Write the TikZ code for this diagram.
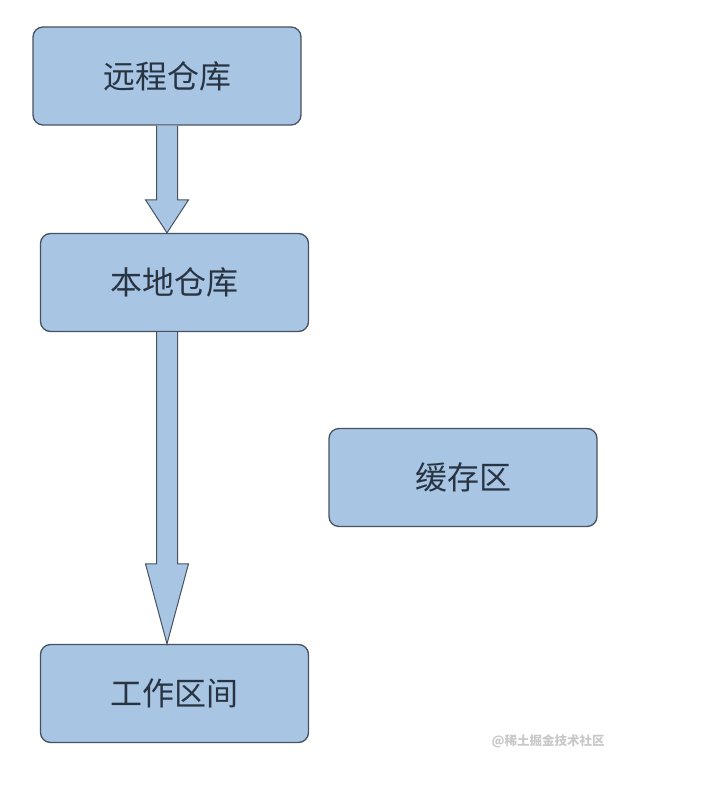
\documentclass[tikz,border=0pt]{standalone}
\usepackage{fontspec}
\newfontfamily\cjk{Noto Sans CJK SC}
\usetikzlibrary{calc}
\definecolor{boxfill}{RGB}{168,198,228}
\definecolor{boxline}{RGB}{70,82,95}
\definecolor{boxtext}{RGB}{40,52,66}
\definecolor{wmark}{RGB}{200,200,200}
\tikzset{
  box/.style={draw=boxline, fill=boxfill, line width=1.3pt, rounded corners=10pt,
    minimum width=268pt, minimum height=98pt, inner sep=0pt,
    font=\cjk\fontsize{32}{35}\selectfont, text=boxtext},
  blockarrow/.style={draw=boxline, fill=boxfill, line width=1pt, line join=miter}
}
\begin{document}
\begin{tikzpicture}[x=1pt,y=-1pt]
\useasboundingbox (0,0) rectangle (702,786);
\node[box] (r) at (167,76) {远程仓库};
\node[box] (l) at (174.5,282.5) {本地仓库};
\node[box] (c) at (463,477.5) {缓存区};
\node[box] (w) at (174.5,693.5) {工作区间};
% arrow remote -> local
\draw[blockarrow]
  ($(r.south)+(-10.5,0)$) -- ($(r.south |- l.north)+(-10.5,-33)$)
  -- ($(r.south |- l.north)+(-21.5,-33)$) -- (r.south |- l.north)
  -- ($(r.south |- l.north)+(21.5,-33)$) -- ($(r.south |- l.north)+(10.5,-33)$)
  -- ($(r.south)+(10.5,0)$);
% arrow local -> workspace
\draw[blockarrow]
  ($(r.south |- l.south)+(-10.5,0)$) -- ($(r.south |- w.north)+(-10.5,-80)$)
  -- ($(r.south |- w.north)+(-21.5,-80)$) -- (r.south |- w.north)
  -- ($(r.south |- w.north)+(21.5,-80)$) -- ($(r.south |- w.north)+(10.5,-80)$)
  -- ($(r.south |- l.south)+(10.5,0)$);
\node[text=wmark, font=\cjk\fontsize{12.5}{14}\selectfont\bfseries] (wm) at (548,741) {@稀土掘金技术社区};
\end{tikzpicture}
\end{document}
